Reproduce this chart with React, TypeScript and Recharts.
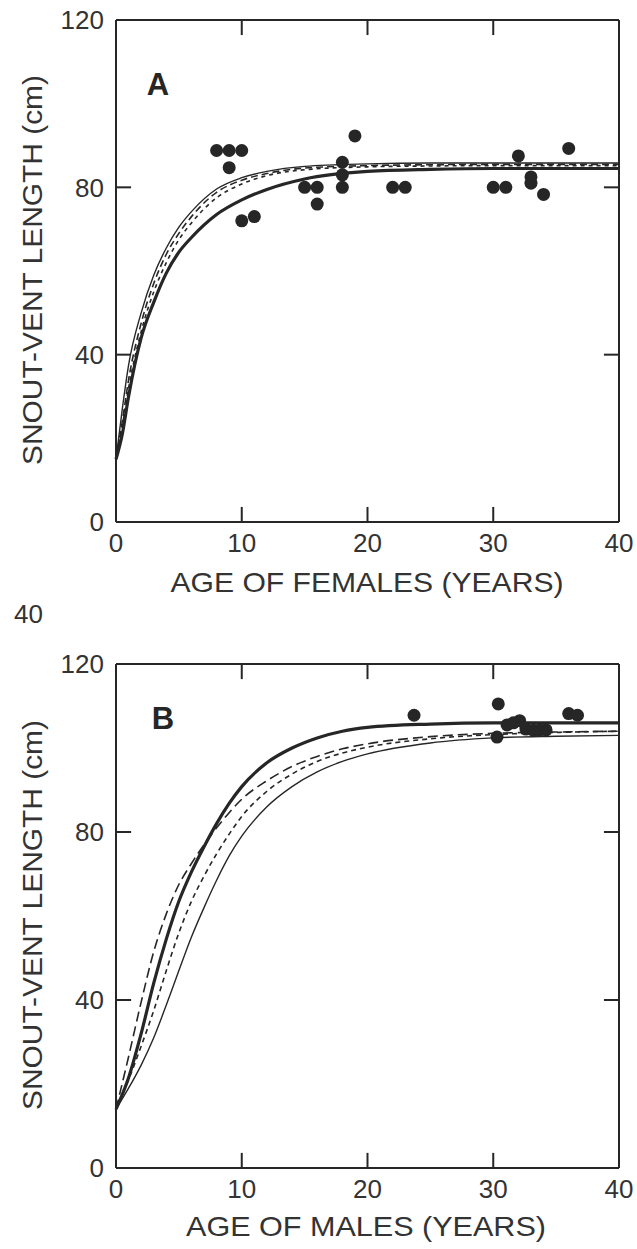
import { ComposedChart, Line, ReferenceLine, Scatter, XAxis, YAxis } from "recharts";

// panel A: females
const AGES_A = [0, 0.5, 1, 2, 3, 4, 5, 6, 8, 10, 12, 15, 20, 25, 30, 40];
const THIN_A = [15, 27, 37.5, 50, 59, 65.5, 70.5, 74.2, 79.6, 82.3, 83.8, 85, 85.6, 85.8, 85.8, 85.8];
const LONG_A = [15, 24, 34, 47.5, 57, 64, 69, 73, 78.8, 81.7, 83.3, 84.6, 85.2, 85.4, 85.5, 85.5];
const SHORT_A = [15, 23, 32, 45.5, 55, 62, 67.5, 71.5, 77.5, 80.8, 82.8, 84.2, 84.9, 85.1, 85.2, 85.2];
const THICK_A = [15, 21, 30, 44, 52.5, 59.5, 64.5, 68, 73.5, 77, 79.5, 82, 83.8, 84.3, 84.5, 84.5];

const FEMALE_AGE = [8, 9, 10, 9, 10, 11, 15, 16, 16, 18, 18, 18, 19, 22, 23, 30, 31, 32, 33, 33, 34, 36];
const FEMALE_SVL = [88.8, 88.8, 88.8, 84.7, 72, 73, 80, 80, 76, 86, 83, 80, 92.3, 80, 80, 80, 80, 87.5, 82.5, 81, 78.3, 89.3];

// panel B: males
const AGES_B = [0, 1, 2, 3, 4, 5, 6, 7, 8, 9, 10, 12, 14, 16, 18, 20, 25, 30, 35, 40];
const THICK_B = [14, 21.5, 32, 44, 54.5, 63.5, 70.5, 76.5, 82, 86.8, 90.8, 96.5, 100, 102.4, 104, 104.9, 105.7, 106, 106, 106];
const LONG_B = [14, 26.5, 39.5, 51.5, 60.5, 67.5, 72.5, 77, 81, 84.6, 87.8, 92.2, 95.6, 98, 99.8, 101, 102.7, 103.5, 103.8, 104];
const SHORT_B = [14, 21, 29, 37.5, 47, 56, 63.5, 69.5, 74.8, 79.5, 83.7, 89.7, 93.8, 96.8, 98.8, 100.2, 102.2, 103.2, 103.7, 104];
const THIN_B = [14, 19, 24.5, 31, 38.8, 47, 55, 62, 68.5, 74.3, 79, 86, 90.8, 94.3, 96.8, 98.6, 101.2, 102.4, 102.8, 103];

const MALE_AGE = [23.7, 30.4, 30.3, 31.1, 31.6, 32.1, 32.6, 33.2, 33.7, 34.2, 36, 36.7];
const MALE_SVL = [107.8, 110.5, 102.6, 105.5, 106, 106.5, 104.5, 104.2, 104.3, 104.3, 108.2, 107.8];

const X_TICKS = [0, 10, 20, 30, 40];
const Y_TICKS = [0, 40, 80, 120];
const X_MAX = 40;
const Y_MAX = 120;

// inner tick marks, in data units (~15px)
const X_TICK_LEN = 1.2;
const Y_TICK_LEN = 3.6;

const INK = "#262626";
const TEXT = "#333";
const FONT = "'Liberation Sans', Arial, sans-serif";

const toSeries = (xs: number[], ys: number[]) => xs.map((x, i) => ({ x, y: ys[i] }));

const Dot = (props: any) => <circle cx={props.cx} cy={props.cy} r={6.5} fill={INK} />;

interface PanelProps {
  ages: number[];
  thin: number[];
  long: number[];
  short: number[];
  thick: number[];
  pointAge: number[];
  pointSvl: number[];
  top: number;
  height: number;
  marginTop: number;
  marginBottom: number;
  longDash: string;
  shortDash: string;
}

function Panel(p: PanelProps) {
  const tickStyle = { fontSize: 26, fill: TEXT, fontFamily: FONT };
  const curve = (ys: number[], width: number, dash?: string, key?: string) => (
    <Line
      key={key}
      data={toSeries(p.ages, ys)}
      dataKey="y"
      type="monotone"
      stroke={INK}
      strokeWidth={width}
      strokeDasharray={dash}
      dot={false}
      activeDot={false}
      isAnimationActive={false}
    />
  );
  const innerX = X_TICKS.filter((t) => t > 0 && t < X_MAX);
  const innerY = Y_TICKS.filter((t) => t > 0 && t < Y_MAX);
  const tickMark = (a: { x: number; y: number }, b: { x: number; y: number }, key: string) => (
    <ReferenceLine key={key} segment={[a, b]} stroke={INK} strokeWidth={2} ifOverflow="visible" />
  );
  return (
    <div style={{ position: "absolute", left: 0, top: p.top }}>
      <ComposedChart
        width={637}
        height={p.height}
        margin={{ top: p.marginTop - 1, right: 17, bottom: p.marginBottom - 1, left: 115 }}
      >
        <XAxis
          type="number"
          dataKey="x"
          domain={[0, X_MAX]}
          ticks={X_TICKS}
          height={1}
          stroke={INK}
          strokeWidth={2}
          tickLine={false}
          tickSize={0}
          tickMargin={12}
          tick={tickStyle}
          interval={0}
        />
        <XAxis
          xAxisId="top"
          orientation="top"
          type="number"
          dataKey="x"
          domain={[0, X_MAX]}
          height={1}
          stroke={INK}
          strokeWidth={2}
          tickLine={false}
          tick={false}
        />
        <YAxis
          type="number"
          domain={[0, Y_MAX]}
          ticks={Y_TICKS}
          width={1}
          stroke={INK}
          strokeWidth={2}
          tickLine={false}
          tickSize={0}
          tickMargin={12}
          tick={tickStyle}
          interval={0}
        />
        <YAxis
          yAxisId="right"
          orientation="right"
          type="number"
          domain={[0, Y_MAX]}
          width={1}
          stroke={INK}
          strokeWidth={2}
          tickLine={false}
          tick={false}
        />
        {innerX.map((t) => tickMark({ x: t, y: 0 }, { x: t, y: Y_TICK_LEN }, `b${t}`))}
        {innerX.map((t) => tickMark({ x: t, y: Y_MAX }, { x: t, y: Y_MAX - Y_TICK_LEN }, `t${t}`))}
        {innerY.map((t) => tickMark({ x: 0, y: t }, { x: X_TICK_LEN, y: t }, `l${t}`))}
        {innerY.map((t) => tickMark({ x: X_MAX, y: t }, { x: X_MAX - X_TICK_LEN, y: t }, `r${t}`))}
        {curve(p.thin, 1.4, undefined, "thin")}
        {curve(p.long, 1.6, p.longDash, "long")}
        {curve(p.short, 1.6, p.shortDash, "short")}
        {curve(p.thick, 3.2, undefined, "thick")}
        <Scatter
          data={toSeries(p.pointAge, p.pointSvl)}
          dataKey="y"
          fill={INK}
          shape={Dot}
          isAnimationActive={false}
        />
      </ComposedChart>
    </div>
  );
}

export default function App() {
  const label = { fontFamily: FONT, fill: TEXT, fontSize: 28 } as const;
  return (
    <div style={{ position: "relative", width: 637, height: 1249, overflow: "hidden", background: "#fff" }}>
      <style>{`html, body { margin: 0; padding: 0; overflow: hidden; }`}</style>
      <Panel
        ages={AGES_A}
        thin={THIN_A}
        long={LONG_A}
        short={SHORT_A}
        thick={THICK_A}
        pointAge={FEMALE_AGE}
        pointSvl={FEMALE_SVL}
        top={0}
        height={640}
        marginTop={20}
        marginBottom={118}
        longDash="7 4"
        shortDash="4 4"
      />
      <Panel
        ages={AGES_B}
        thin={THIN_B}
        long={LONG_B}
        short={SHORT_B}
        thick={THICK_B}
        pointAge={MALE_AGE}
        pointSvl={MALE_SVL}
        top={640}
        height={609}
        marginTop={24}
        marginBottom={81}
        longDash="10 5"
        shortDash="5 4"
      />
      <svg
        width={637}
        height={1249}
        style={{ position: "absolute", left: 0, top: 0, pointerEvents: "none" }}
      >
        <text x={158} y={84} textAnchor="middle" dominantBaseline="central" fontFamily={FONT} fontSize={31} fontWeight="bold" fill={INK}>
          A
        </text>
        <text x={163} y={718} textAnchor="middle" dominantBaseline="central" fontFamily={FONT} fontSize={31} fontWeight="bold" fill={INK}>
          B
        </text>
        <text x={32} y={270} transform="rotate(-90 32 270)" textAnchor="middle" dominantBaseline="central" textLength={390} lengthAdjust="spacingAndGlyphs" {...label}>
          SNOUT-VENT LENGTH (cm)
        </text>
        <text x={32} y={915} transform="rotate(-90 32 915)" textAnchor="middle" dominantBaseline="central" textLength={390} lengthAdjust="spacingAndGlyphs" {...label}>
          SNOUT-VENT LENGTH (cm)
        </text>
        <text x={367} y={582} textAnchor="middle" dominantBaseline="central" textLength={393} lengthAdjust="spacingAndGlyphs" {...label}>
          AGE OF FEMALES (YEARS)
        </text>
        <text x={366} y={1226} textAnchor="middle" dominantBaseline="central" textLength={360} lengthAdjust="spacingAndGlyphs" {...label}>
          AGE OF MALES (YEARS)
        </text>
        <text x={14} y={614} dominantBaseline="central" fontFamily={FONT} fontSize={26} fill={TEXT}>
          40
        </text>
      </svg>
    </div>
  );
}
